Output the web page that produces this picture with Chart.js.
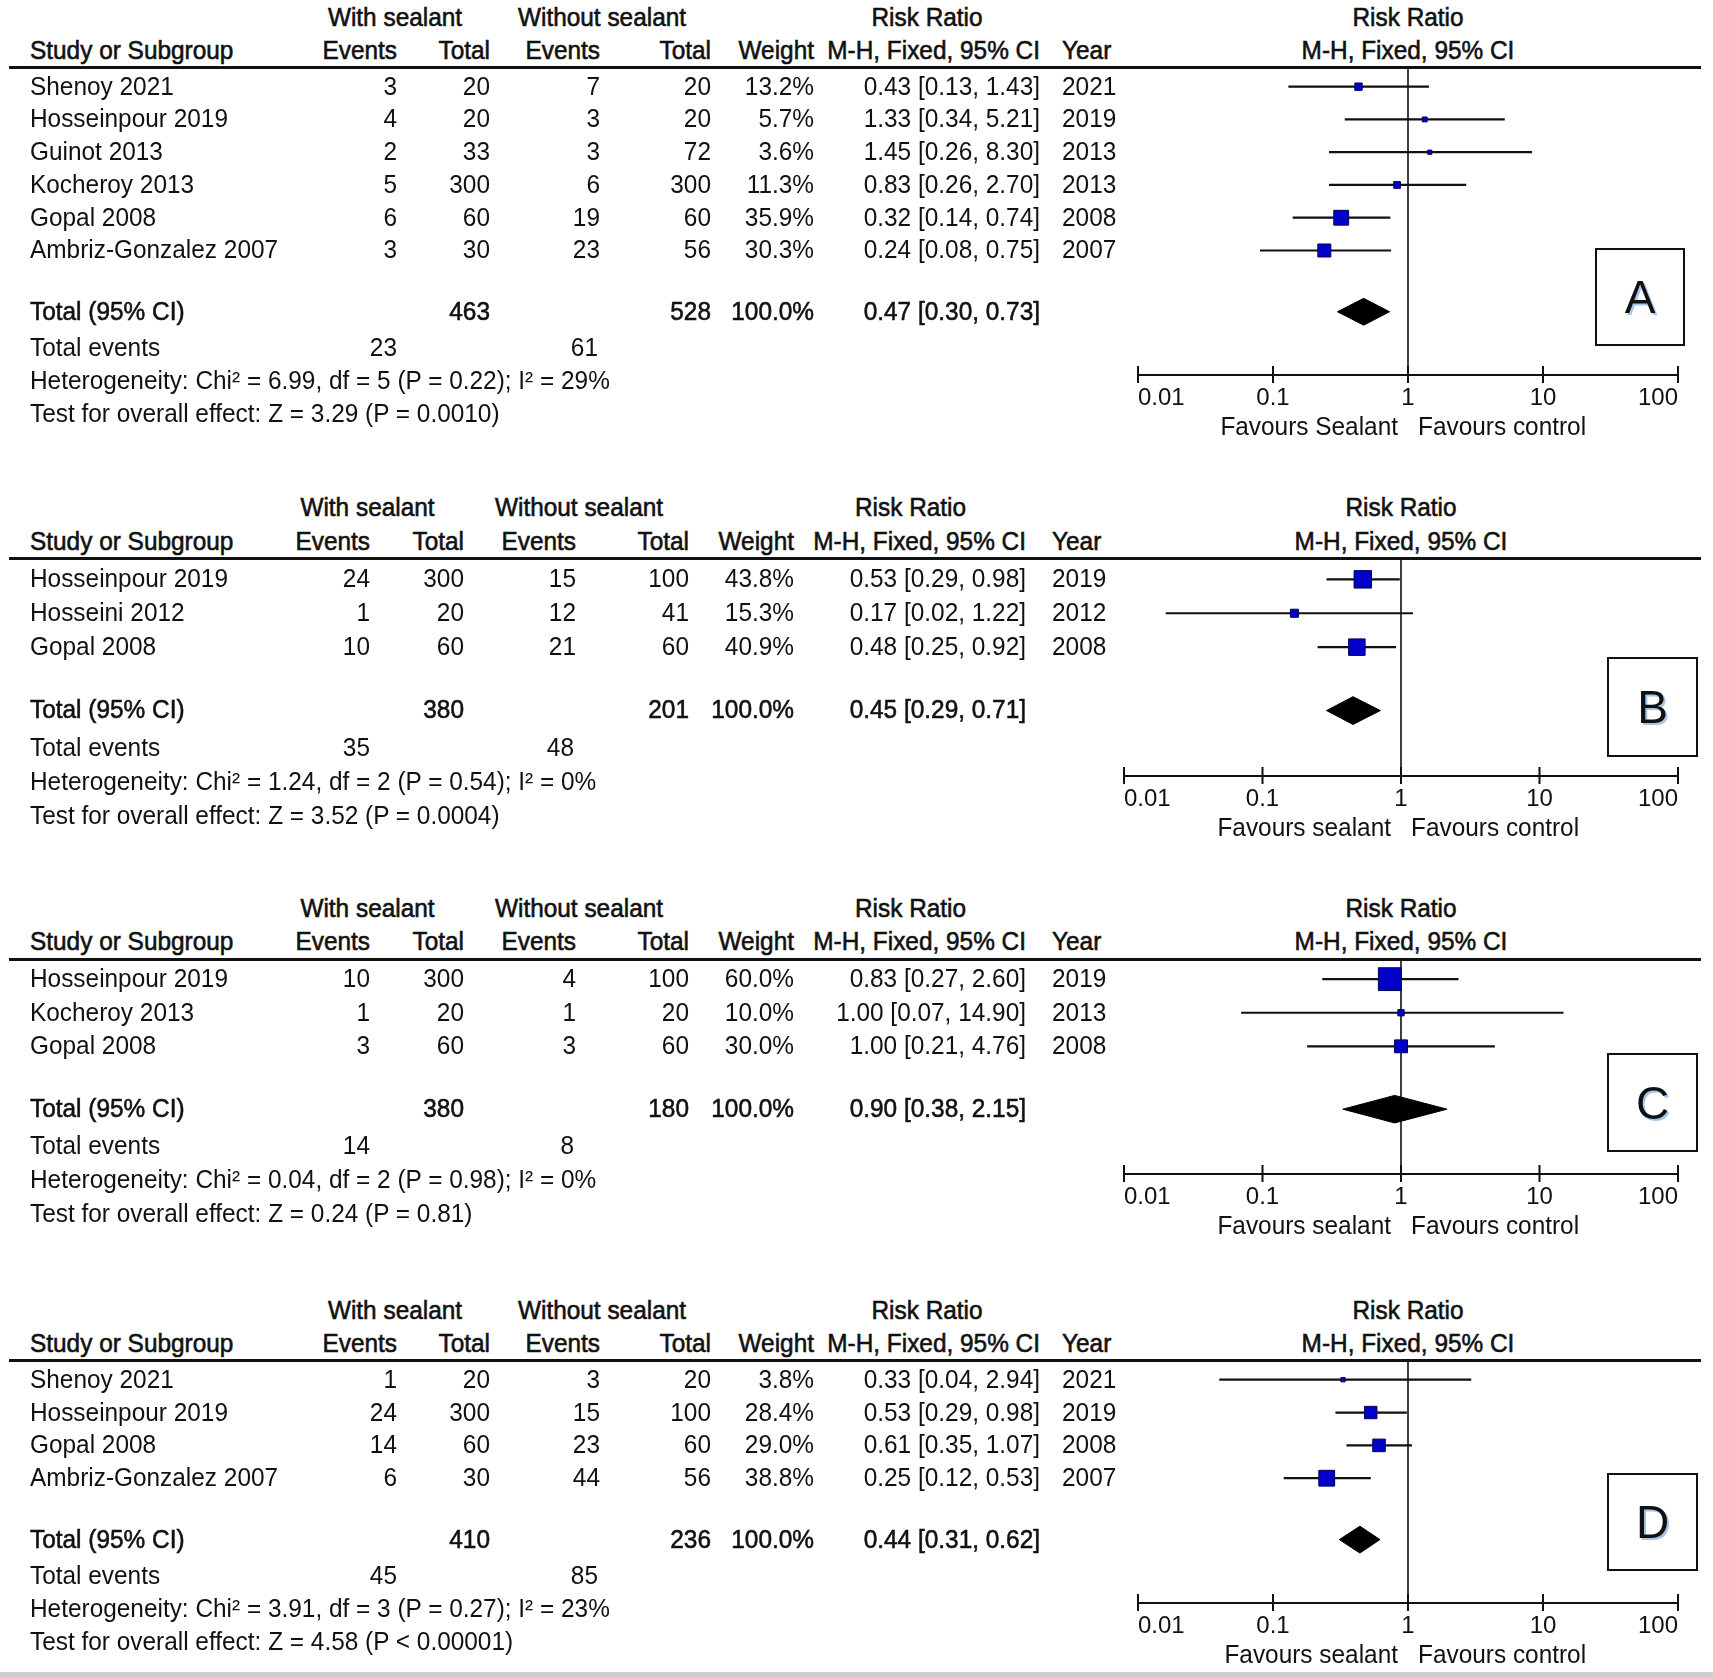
<!DOCTYPE html>
<html><head><meta charset="utf-8">
<script src="https://cdn.jsdelivr.net/npm/chart.js@4/dist/chart.umd.min.js"></script>
<style>
html,body{margin:0;padding:0;background:#fff;}
#page{position:relative;width:1713px;height:1677px;overflow:hidden;background:#fff;font-family:"Liberation Sans",Arial,sans-serif;color:#111;}
.t{position:absolute;white-space:nowrap;font-size:24.4px;line-height:1;z-index:2;}
.b{-webkit-text-stroke:0.55px #111;}
.rule{position:absolute;height:3px;background:#111;z-index:2;}
.box{position:absolute;border:2px solid #111;box-sizing:border-box;z-index:2;display:flex;align-items:center;justify-content:center;font-size:46px;color:#111;text-shadow:2px 2px 0 rgba(90,150,220,0.55);}
canvas{position:absolute;left:0;z-index:1;}
#band{position:absolute;left:0;bottom:0;width:1713px;height:5px;background:#cdcdcd;}
</style></head>
<body><div id="page"><div id="band"></div></div>
<script>
// ---------- Panel A ----------
const studiesA = ["Shenoy 2021","Hosseinpour 2019","Guinot 2013","Kocheroy 2013","Gopal 2008","Ambriz-Gonzalez 2007"];
const evSealA = [3,4,2,5,6,3];
const totSealA = [20,20,33,300,60,30];
const evCtrlA = [7,3,3,6,19,23];
const totCtrlA = [20,20,72,300,60,56];
const weightA = [13.2,5.7,3.6,11.3,35.9,30.3];
const rrA = [0.43,1.33,1.45,0.83,0.32,0.24];
const loA = [0.13,0.34,0.26,0.26,0.14,0.08];
const hiA = [1.43,5.21,8.30,2.70,0.74,0.75];
const yearA = [2021,2019,2013,2013,2008,2007];
const totalsA = [463,528];
const totalEventsA = [23,61];
const pooledA = [0.47,0.30,0.73];
const hetA = "Heterogeneity: Chi\u00B2 = 6.99, df = 5 (P = 0.22); I\u00B2 = 29%";
const testA = "Test for overall effect: Z = 3.29 (P = 0.0010)";
const favLeftA = "Favours Sealant";

// ---------- Panel B ----------
const studiesB = ["Hosseinpour 2019","Hosseini 2012","Gopal 2008"];
const evSealB = [24,1,10];
const totSealB = [300,20,60];
const evCtrlB = [15,12,21];
const totCtrlB = [100,41,60];
const weightB = [43.8,15.3,40.9];
const rrB = [0.53,0.17,0.48];
const loB = [0.29,0.02,0.25];
const hiB = [0.98,1.22,0.92];
const yearB = [2019,2012,2008];
const totalsB = [380,201];
const totalEventsB = [35,48];
const pooledB = [0.45,0.29,0.71];
const hetB = "Heterogeneity: Chi\u00B2 = 1.24, df = 2 (P = 0.54); I\u00B2 = 0%";
const testB = "Test for overall effect: Z = 3.52 (P = 0.0004)";
const favLeftB = "Favours sealant";

// ---------- Panel C ----------
const studiesC = ["Hosseinpour 2019","Kocheroy 2013","Gopal 2008"];
const evSealC = [10,1,3];
const totSealC = [300,20,60];
const evCtrlC = [4,1,3];
const totCtrlC = [100,20,60];
const weightC = [60.0,10.0,30.0];
const rrC = [0.83,1.00,1.00];
const loC = [0.27,0.07,0.21];
const hiC = [2.60,14.90,4.76];
const yearC = [2019,2013,2008];
const totalsC = [380,180];
const totalEventsC = [14,8];
const pooledC = [0.90,0.38,2.15];
const hetC = "Heterogeneity: Chi\u00B2 = 0.04, df = 2 (P = 0.98); I\u00B2 = 0%";
const testC = "Test for overall effect: Z = 0.24 (P = 0.81)";
const favLeftC = "Favours sealant";

// ---------- Panel D ----------
const studiesD = ["Shenoy 2021","Hosseinpour 2019","Gopal 2008","Ambriz-Gonzalez 2007"];
const evSealD = [1,24,14,6];
const totSealD = [20,300,60,30];
const evCtrlD = [3,15,23,44];
const totCtrlD = [20,100,60,56];
const weightD = [3.8,28.4,29.0,38.8];
const rrD = [0.33,0.53,0.61,0.25];
const loD = [0.04,0.29,0.35,0.12];
const hiD = [2.94,0.98,1.07,0.53];
const yearD = [2021,2019,2008,2007];
const totalsD = [410,236];
const totalEventsD = [45,85];
const pooledD = [0.44,0.31,0.62];
const hetD = "Heterogeneity: Chi\u00B2 = 3.91, df = 3 (P = 0.27); I\u00B2 = 23%";
const testD = "Test for overall effect: Z = 4.58 (P < 0.00001)";
const favLeftD = "Favours sealant";

// ---------- Shared ----------
const tickValues = [0.01,0.1,1,10,100];
const tickLabels = ["0.01","0.1","1","10","100"];
const favRight = "Favours control";
const panelLetters = ["A","B","C","D"];

const panels = [
  {studies:studiesA, ev1:evSealA, tot1:totSealA, ev2:evCtrlA, tot2:totCtrlA, w:weightA, rr:rrA, lo:loA, hi:hiA, year:yearA, totals:totalsA, events:totalEventsA, pooled:pooledA, het:hetA, test:testA, favL:favLeftA},
  {studies:studiesB, ev1:evSealB, tot1:totSealB, ev2:evCtrlB, tot2:totCtrlB, w:weightB, rr:rrB, lo:loB, hi:hiB, year:yearB, totals:totalsB, events:totalEventsB, pooled:pooledB, het:hetB, test:testB, favL:favLeftB},
  {studies:studiesC, ev1:evSealC, tot1:totSealC, ev2:evCtrlC, tot2:totCtrlC, w:weightC, rr:rrC, lo:loC, hi:hiC, year:yearC, totals:totalsC, events:totalEventsC, pooled:pooledC, het:hetC, test:testC, favL:favLeftC},
  {studies:studiesD, ev1:evSealD, tot1:totSealD, ev2:evCtrlD, tot2:totCtrlD, w:weightD, rr:rrD, lo:loD, hi:hiD, year:yearD, totals:totalsD, events:totalEventsD, pooled:pooledD, het:hetD, test:testD, favL:favLeftD}
];

// layout (pixels) per panel
const layouts = [
  {ruleY:67,    axisY:375,  x0:1138, x1:1678, cols:[397,490,600,711,814,1040,1062], grp:[395,602,927],   box:[1595,248,90,98]},
  {ruleY:558.5, axisY:776,  x0:1124, x1:1678, cols:[370,464,576,689,794,1026,1052], grp:[367.5,579,910.5], box:[1607,657,91,100]},
  {ruleY:959,   axisY:1174, x0:1124, x1:1678, cols:[370,464,576,689,794,1026,1052], grp:[367.5,579,910.5], box:[1607,1053,91,99]},
  {ruleY:1360,  axisY:1603, x0:1138, x1:1678, cols:[397,490,600,711,814,1040,1062], grp:[395,602,927],   box:[1607,1473,91,98]}
];

const page = document.getElementById('page');
function txt(s, x, y, align, bold) {
  const d = document.createElement('div');
  d.className = 't' + (bold ? ' b' : '');
  d.textContent = s;
  d.style.left = x + 'px';
  d.style.top = y + 'px';
  const tx = align === 'r' ? '-100%' : (align === 'c' ? '-50%' : '0');
  d.style.transform = 'translate(' + tx + ',-50%) scaleY(1.08)';
  page.appendChild(d);
  return d;
}
const f2 = v => v.toFixed(2);
const ciText = (r,l,h) => f2(r) + ' [' + f2(l) + ', ' + f2(h) + ']';

const axisTicksPlugin = {
  id: 'axisTicks',
  afterDraw(chart) {
    const xs = chart.scales.x, ctx = chart.ctx, yb = chart.chartArea.bottom;
    ctx.save();
    ctx.strokeStyle = '#111';
    ctx.lineWidth = 2;
    ctx.beginPath();
    ctx.moveTo(xs.getPixelForValue(tickValues[0]), yb);
    ctx.lineTo(xs.getPixelForValue(tickValues[tickValues.length-1]), yb);
    tickValues.forEach(v => {
      const px = xs.getPixelForValue(v);
      ctx.moveTo(px, yb - 9);
      ctx.lineTo(px, yb + 8);
    });
    ctx.stroke();
    ctx.restore();
  }
};

panels.forEach((p, k) => {
  const L = layouts[k];
  const n = p.studies.length;
  const yMax = n + 3.4;
  const rowV = i => i + 0.6;
  const totV = n + 1.47;
  const H = L.axisY - L.ruleY + 80;

  const cv = document.createElement('canvas');
  cv.width = 1713; cv.height = H;
  cv.style.width = '1713px'; cv.style.height = H + 'px';
  cv.style.top = L.ruleY + 'px';
  page.appendChild(cv);

  const ciData = [];
  p.lo.forEach((l, i) => {
    ciData.push({x: l, y: rowV(i)}, {x: p.hi[i], y: rowV(i)}, {x: null, y: null});
  });
  const ptData = p.rr.map((r, i) => ({x: r, y: rowV(i)}));
  const [pr, pl, ph] = p.pooled;
  const dh = 0.41;
  const diamond = [{x: pl, y: totV}, {x: pr, y: totV - dh}, {x: ph, y: totV}, {x: pr, y: totV + dh}, {x: pl, y: totV}];

  const chart = new Chart(cv, {
    type: 'scatter',
    data: {
      datasets: [
        {type: 'scatter', data: ptData, pointStyle: 'rect',
         pointRadius: c => (3 + p.w[c.dataIndex] * 0.33) / 1.414,
         backgroundColor: '#0000c8', borderColor: '#00005a', borderWidth: 1, clip: false},
        {type: 'line', data: diamond, fill: 'shape', backgroundColor: '#000', borderColor: '#000', borderWidth: 1, pointRadius: 0, tension: 0},
        {type: 'line', data: ciData, borderColor: '#111', borderWidth: 2.2, pointRadius: 0, spanGaps: false, fill: false},
        {type: 'line', data: [{x: 1, y: 0}, {x: 1, y: yMax}], borderColor: '#111', borderWidth: 1.6, pointRadius: 0, fill: false}
      ]
    },
    options: {
      responsive: false,
      animation: false,
      events: [],
      layout: {autoPadding: false, padding: {left: L.x0, right: 1713 - L.x1, top: 0, bottom: 0}},
      plugins: {legend: {display: false}, tooltip: {enabled: false}},
      scales: {
        x: {
          type: 'logarithmic', min: 0.01, max: 100, offset: false,
          afterBuildTicks: a => { a.ticks = tickValues.map(v => ({value: v})); },
          afterFit: a => { a.height = 80; },
          grid: {display: false, drawTicks: false},
          border: {display: false},
          ticks: {align: 'inner', padding: 9, color: '#111', autoSkip: false, maxRotation: 0,
                  font: {family: '"Liberation Sans", Arial, sans-serif', size: 24},
                  callback: (v, i) => tickLabels[i]}
        },
        y: {type: 'linear', display: false, reverse: true, min: 0, max: yMax}
      }
    },
    plugins: [axisTicksPlugin]
  });

  const ys = chart.scales.y, xs = chart.scales.x;
  const Y = v => L.ruleY + ys.getPixelForValue(v);
  const c = L.cols;

  // rule
  const rl = document.createElement('div');
  rl.className = 'rule';
  rl.style.left = '9px'; rl.style.width = '1692px'; rl.style.top = (L.ruleY - 1.5) + 'px';
  page.appendChild(rl);

  // headers
  const h1 = Y(-1.5), h2 = Y(-0.5);
  const xOne = xs.getPixelForValue(1);
  txt('With sealant', L.grp[0], h1, 'c', true);
  txt('Without sealant', L.grp[1], h1, 'c', true);
  txt('Risk Ratio', L.grp[2], h1, 'c', true);
  txt('Risk Ratio', xOne, h1, 'c', true);
  txt('Study or Subgroup', 30, h2, 'l', true);
  txt('Events', c[0], h2, 'r', true);
  txt('Total', c[1], h2, 'r', true);
  txt('Events', c[2], h2, 'r', true);
  txt('Total', c[3], h2, 'r', true);
  txt('Weight', c[4], h2, 'r', true);
  txt('M-H, Fixed, 95% CI', c[5], h2, 'r', true);
  txt('Year', c[6], h2, 'l', true);
  txt('M-H, Fixed, 95% CI', xOne, h2, 'c', true);

  // study rows
  p.studies.forEach((s, i) => {
    const y = Y(rowV(i));
    txt(s, 30, y, 'l');
    txt(String(p.ev1[i]), c[0], y, 'r');
    txt(String(p.tot1[i]), c[1], y, 'r');
    txt(String(p.ev2[i]), c[2], y, 'r');
    txt(String(p.tot2[i]), c[3], y, 'r');
    txt(p.w[i].toFixed(1) + '%', c[4], y, 'r');
    txt(ciText(p.rr[i], p.lo[i], p.hi[i]), c[5], y, 'r');
    txt(String(p.year[i]), c[6], y, 'l');
  });

  // totals
  const ty = Y(totV);
  txt('Total (95% CI)', 30, ty, 'l', true);
  txt(String(p.totals[0]), c[1], ty, 'r', true);
  txt(String(p.totals[1]), c[3], ty, 'r', true);
  txt('100.0%', c[4], ty, 'r', true);
  txt(ciText(pr, pl, ph), c[5], ty, 'r', true);
  const ey = Y(n + 2.58);
  txt('Total events', 30, ey, 'l');
  txt(String(p.events[0]), c[0], ey, 'r');
  txt(String(p.events[1]), c[2] - 2, ey, 'r');
  txt(p.het, 30, Y(n + 3.58), 'l');
  txt(p.test, 30, Y(n + 4.58), 'l');

  // favours
  const fy = L.axisY + 52;
  txt(p.favL, xOne - 10, fy, 'r');
  txt(favRight, xOne + 10, fy, 'l');

  // letter box
  const bx = document.createElement('div');
  bx.className = 'box';
  bx.style.left = L.box[0] + 'px'; bx.style.top = L.box[1] + 'px';
  bx.style.width = L.box[2] + 'px'; bx.style.height = L.box[3] + 'px';
  bx.textContent = panelLetters[k];
  page.appendChild(bx);
});
</script>
</body></html>
